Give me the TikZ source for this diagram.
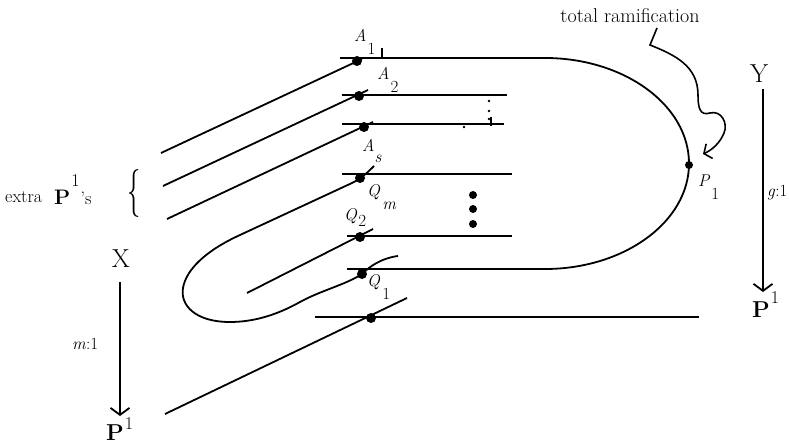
\documentclass[tikz,border=0pt]{standalone}
\usepackage{fontspec}
\usetikzlibrary{arrows.meta}
\begin{document}
\begin{tikzpicture}[x=1pt,y=-1pt,
  ln/.style={line width=1.8pt},
  dotb/.style={circle,fill=black,inner sep=0pt,minimum size=10pt},
  dotm/.style={circle,fill=black,inner sep=0pt,minimum size=8pt},
  dotsm/.style={circle,fill=black,inner sep=0pt,minimum size=2.6pt},
  lbl/.style={inner sep=0pt,anchor=base west,font=\fontsize{17}{17}\selectfont},
  txt/.style={inner sep=0pt,anchor=base west,font=\fontsize{18}{18}\selectfont},
  bigl/.style={inner sep=0pt,anchor=base,font=\fontsize{26}{26}\selectfont},
  pone/.style={inner sep=0pt,anchor=base west,font=\fontsize{23}{23}\selectfont},
  barb/.style={-{Straight Barb[length=7pt,width=19pt]}}]
\useasboundingbox (0,0) rectangle (789,443);

% big curve Y
\draw[ln] (340,58) -- (545,58) .. controls (624,58) and (689,105) .. (689,163.5)
  .. controls (689,222) and (624,269) .. (545,269) -- (347,269);
\draw[ln] (382,48) -- (382,58);

% horizontal lines
\draw[ln] (342,95) -- (507,95);
\draw[ln] (342,124) -- (504,124);
\draw[ln] (342,174) -- (512,174);
\draw[ln] (347,236) -- (512,236);
\draw[ln] (315,317) -- (699,317);

% small marks
\node[dotsm] (s1) at (489,101) {};
\node[dotsm] (s2) at (489,111) {};
\node[dotsm] (s3) at (489,119) {};
\node[dotsm] (s4) at (464,127) {};
\draw[line width=2.2pt] (491,117) -- (491,126);

% big vertical dots
\node[dotm] (v1) at (473,195) {};
\node[dotm] (v2) at (473,209) {};
\node[dotm] (v3) at (473,224) {};

% diagonal lines
\draw[ln] (161,153) -- (362,59);
\draw[ln] (163,186) -- (368,90);
\draw[ln] (167,219) -- (373,122);
\draw[ln] (247,293) -- (373,229);
\draw[ln] (165,414) -- (407,298);

% loop curve X
\draw[ln] (398,256) .. controls (382,258) and (370,266) .. (362,274)
  .. controls (345,285) and (322,290) .. (300,302)
  .. controls (275,316) and (252,322) .. (230,322)
  .. controls (195,322) and (180,305) .. (183,288)
  .. controls (186,270) and (205,251) .. (240,235)
  -- (352,183) .. controls (362,178) and (368,172) .. (374,166);

% intersection dots
\node[dotb] (a1) at (357,61) {};
\node[dotb] (a2) at (359,96) {};
\node[dotb] (a3) at (364,127) {};
\node[dotb] (qm) at (360,178) {};
\node[dotb] (q2) at (360,237) {};
\node[dotb] (q1) at (362,274) {};
\node[dotb] (qb) at (371,318) {};
\node[dotm] (p1) at (689,165) {};

% labels on curves
\node[lbl] (la1) at (354,42) {\textit{A}\kern1pt\raisebox{-13pt}{1}};
\node[lbl] (la2) at (377,80) {\textit{A}\kern1pt\raisebox{-13pt}{2}};
\node[lbl] (las) at (362,152) {\textit{A}\kern0pt\raisebox{-11pt}{\textit{s}}};
\node[lbl] (lqm) at (367,197) {\textit{Q}\kern2pt\raisebox{-13pt}{\textit{m}}};
\node[lbl] (lq2) at (344,221) {\textit{Q}\kern1pt\raisebox{-6pt}{2}};
\node[lbl] (lq1) at (367,287) {\textit{Q}\kern2pt\raisebox{-13pt}{1}};
\node[lbl] (lp1) at (698,187) {\textit{P}\kern1pt\raisebox{-13pt}{1}};

% total ramification
\node[inner sep=0pt,anchor=base,font=\fontsize{20}{20}\selectfont] (tr) at (630,23) {total ramification};
\coordinate (sq0) at (657,28);
\coordinate (sq1) at (650,45);
\coordinate (sq2) at (703,154);
\draw[line width=1.6pt,-{Straight Barb[length=6pt,width=16pt]}] (sq0) -- (sq1)
  .. controls (675,55) and (698,66) .. (698,95)
  .. controls (698,108) and (700,116) .. (710,113)
  .. controls (722,110) and (728,124) .. (724,133)
  .. controls (720,143) and (712,150) .. (sq2);

% right map Y -> P1
\node[bigl] (Y) at (759,83) {Y};
\coordinate (ya) at (763,89);
\coordinate (yb) at (763,292);
\draw[ln,barb] (ya) -- (yb);
\node[txt,font=\fontsize{17}{17}\selectfont] (g) at (767,197) {\textit{g}:1};
\node[pone] (PR) at (752,318) {\textbf{P}\kern1pt\raisebox{14pt}{\fontsize{18}{18}\selectfont 1}};

% left map X -> P1
\node[bigl] (X) at (121,268) {X};
\coordinate (xa) at (120,282);
\coordinate (xb) at (120,416);
\draw[ln,barb] (xa) -- (xb);
\node[txt,font=\fontsize{17}{17}\selectfont] (m) at (72,349) {\textit{m}:1};
\node[pone] (PL) at (106,440) {\textbf{P}\kern1pt\raisebox{11pt}{\fontsize{18}{18}\selectfont 1}};

% extra P1's
\node[txt] (ex) at (5,203) {extra};
\node[pone,font=\fontsize{21}{21}\selectfont] (ep) at (54,205) {\textbf{P}\kern1pt\raisebox{18pt}{\fontsize{18}{18}\selectfont 1}\kern1pt{\fontsize{18}{18}\selectfont 's}};
\node[inner sep=0pt] (br) at (134,194) {\scalebox{0.55}[1]{\fontsize{48}{48}\selectfont\{}};
\end{tikzpicture}
\end{document}
